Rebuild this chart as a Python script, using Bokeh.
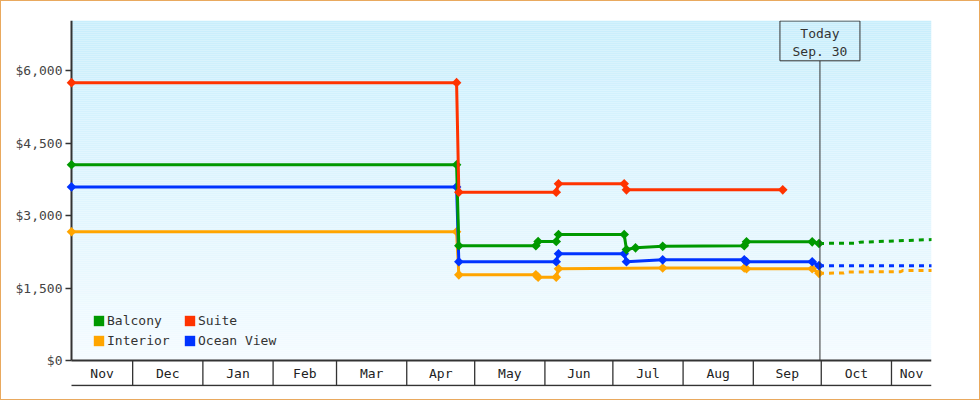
import numpy as np
import pandas as pd
from bokeh.plotting import figure
from bokeh.models import Range1d, FixedTicker, NumeralTickFormatter, Legend, LegendItem
from bokeh.core.properties import value
from bokeh.embed import file_html
from bokeh.resources import INLINE

FONT = "DejaVu Sans Mono"

# ---------------- data ----------------
month_labels = ["Nov", "Dec", "Jan", "Feb", "Mar", "Apr", "May", "Jun",
                "Jul", "Aug", "Sep", "Oct", "Nov"]
month_starts = ["2012-11-01", "2012-12-01", "2013-01-01", "2013-02-01",
                "2013-03-01", "2013-04-01", "2013-05-01", "2013-06-01",
                "2013-07-01", "2013-08-01", "2013-09-01", "2013-10-01",
                "2013-11-01"]
month_ends = month_starts[1:] + ["2013-12-01"]
y_ticks = [0, 1500, 3000, 4500, 6000]
x_start = "2012-11-04"
x_end = "2013-11-18 16:00"
today_date = "2013-09-30 10:00"
today_text = ["Today", "Sep. 30"]

series_names = ["Balcony", "Suite", "Interior", "Ocean View"]
series_colors = {"Balcony": "#009900", "Suite": "#ff3300",
                 "Interior": "#ffa500", "Ocean View": "#0033ff"}

balcony_dates = ["2012-11-04", "2013-04-23", "2013-04-24", "2013-05-28",
                 "2013-05-29", "2013-06-06", "2013-06-07", "2013-07-06",
                 "2013-07-07", "2013-07-11", "2013-07-23", "2013-08-28",
                 "2013-08-29", "2013-09-27", "2013-09-30"]
balcony_prices = [4050, 4050, 2375, 2375, 2462, 2462, 2607, 2607,
                  2295, 2331, 2362, 2375, 2455, 2455, 2422]
balcony_fc_dates = ["2013-09-30", "2013-10-17", "2013-10-18", "2013-11-19"]
balcony_fc_prices = [2422, 2428, 2446, 2503]

suite_dates = ["2012-11-04", "2013-04-23", "2013-04-24", "2013-06-06",
               "2013-06-07", "2013-07-06", "2013-07-07", "2013-09-14"]
suite_prices = [5748, 5748, 3483, 3483, 3658, 3658, 3531, 3531]

interior_dates = ["2012-11-04", "2013-04-23", "2013-04-24", "2013-05-28",
                  "2013-05-29", "2013-06-06", "2013-06-07", "2013-07-23",
                  "2013-08-28", "2013-08-29", "2013-09-27", "2013-09-30"]
interior_prices = [2665, 2665, 1772, 1772, 1724, 1724, 1897, 1915,
                   1915, 1897, 1897, 1803]
interior_fc_dates = ["2013-09-30", "2013-10-11", "2013-10-12", "2013-11-05",
                     "2013-11-06", "2013-11-19"]
interior_fc_prices = [1803, 1812, 1832, 1836, 1860, 1864]

ocean_dates = ["2012-11-04", "2013-04-23", "2013-04-24", "2013-06-06",
               "2013-06-07", "2013-07-06", "2013-07-07", "2013-07-23",
               "2013-08-28", "2013-08-29", "2013-09-27", "2013-09-30"]
ocean_prices = [3592, 3592, 2044, 2044, 2210, 2210, 2044, 2083,
                2083, 2044, 2044, 1962]
ocean_fc_dates = ["2013-09-30", "2013-11-19"]
ocean_fc_prices = [1962, 1960]


def ms(d):
    return pd.Timestamp(d).value / 1e6


def ms_list(ds):
    return [ms(d) for d in ds]


# ---------------- layout ----------------
PLOT_W, FRAME_H = 860, 366
LEFT_PAD = 6              # frame extends a little left of the axis line
FRAME_W = PLOT_W + LEFT_PAD
PLOT_H = 340              # pixels from top of frame to $0
DOLLAR_PER_PX = 6000 / 290
y_top = PLOT_H * DOLLAR_PER_PX
y_bot = y_top - FRAME_H * DOLLAR_PER_PX
x0, x1 = ms(x_start), ms(x_end)
MS_PER_PX = (x1 - x0) / PLOT_W

p = figure(width=978, height=398, frame_width=FRAME_W, frame_height=FRAME_H,
           min_border_left=70 - LEFT_PAD, min_border_right=48, min_border_top=19,
           min_border_bottom=13, output_backend="svg", toolbar_location=None,
           x_axis_type="datetime",
           x_range=Range1d(x0 - LEFT_PAD * MS_PER_PX, x1),
           y_range=Range1d(y_bot, y_top))
p.outline_line_color = None
p.background_fill_color = "white"
p.border_fill_color = "white"
p.xgrid.visible = False
p.ygrid.visible = False
p.xaxis.visible = False
p.styles = {"border": "1px solid #e9a95e"}

# background gradient in the plot area
n_bands = 170
edges = np.linspace(0, y_top, n_bands + 1)
top_rgb = np.array([200, 238, 252])
bot_rgb = np.array([244, 251, 255])
cols = []
for i in range(n_bands):
    t = (i + 0.5) / n_bands
    c = bot_rgb + (top_rgb - bot_rgb) * t
    cols.append("#%02x%02x%02x" % tuple(int(round(v)) for v in c))
p.quad(left=x0, right=x1, bottom=edges[:-1], top=edges[1:],
       fill_color=cols, line_color=None)

# y axis (ticks and labels from the axis; its line drawn at the plot's left edge)
ya = p.yaxis[0]
ya.ticker = FixedTicker(ticks=y_ticks, minor_ticks=[])
ya.formatter = NumeralTickFormatter(format="$0,0")
ya.axis_line_color = None
ya.major_tick_line_color = "#333333"
ya.major_tick_line_width = 1.5
ya.major_tick_out = 0
ya.major_tick_in = LEFT_PAD
ya.minor_tick_line_color = None
ya.major_label_standoff = 3
ya.major_label_text_font = FONT
ya.major_label_text_font_size = "13px"
ya.major_label_text_color = "#444444"
p.segment(x0=[x0], x1=[x0], y0=[0], y1=[y_top], line_color="#333333",
          line_width=2)

# month band below the plot
band_y = -25 * DOLLAR_PER_PX
p.segment(x0=[x0], x1=[x1], y0=[0], y1=[0], line_color="#333333", line_width=2)
p.segment(x0=[x0], x1=[x1], y0=[band_y], y1=[band_y], line_color="#333333",
          line_width=1.3)
bounds = [ms(d) for d in month_starts[1:]]
p.segment(x0=bounds, x1=bounds, y0=[0] * len(bounds), y1=[band_y] * len(bounds),
          line_color="#333333", line_width=1.3)
centers = []
for s, e in zip(month_starts, month_ends):
    a, b = max(ms(s), x0), min(ms(e), x1)
    centers.append((a + b) / 2)
p.text(x=centers, y=[-12.7 * DOLLAR_PER_PX] * len(centers), text=month_labels,
       text_font=value(FONT), text_font_size=value("13px"), text_color="#222222",
       text_align="center", text_baseline="middle")

# series
solid = {
    "Interior": (interior_dates, interior_prices),
    "Ocean View": (ocean_dates, ocean_prices),
    "Balcony": (balcony_dates, balcony_prices),
    "Suite": (suite_dates, suite_prices),
}
fc = {
    "Interior": (interior_fc_dates, interior_fc_prices),
    "Ocean View": (ocean_fc_dates, ocean_fc_prices),
    "Balcony": (balcony_fc_dates, balcony_fc_prices),
}
for name in ["Interior", "Ocean View", "Balcony", "Suite"]:
    c = series_colors[name]
    if name in fc:
        d, v = fc[name]
        p.line(ms_list(d), v, line_color=c, line_width=3, line_dash="5 5")
for name in ["Interior", "Ocean View", "Balcony", "Suite"]:
    c = series_colors[name]
    d, v = solid[name]
    p.line(ms_list(d), v, line_color=c, line_width=3)
    p.scatter(ms_list(d), v, marker="square", angle=np.pi / 4, size=6.8,
              fill_color=c, line_color=None)

# today marker
t = ms(today_date)
box_bottom = (PLOT_H - 40.3) * DOLLAR_PER_PX
p.segment(x0=[t], x1=[t], y0=[0], y1=[box_bottom], line_color="#333333",
          line_width=1)
p.quad(left=[t - 40 * MS_PER_PX], right=[t + 40 * MS_PER_PX],
       bottom=[box_bottom], top=[y_top - 0.5 * DOLLAR_PER_PX],
       fill_color=None, line_color="#333333", line_width=1)
p.text(x=[t, t], y=[(PLOT_H - 12.7) * DOLLAR_PER_PX, (PLOT_H - 30.7) * DOLLAR_PER_PX],
       text=today_text, text_font=value(FONT), text_font_size=value("13px"),
       text_color="#333333", text_align="center", text_baseline="middle")

# legend (two columns); swatch renderers hold no visible data
dummies = {}
for name in series_names:
    dummies[name] = p.quad(left=[np.nan], right=[np.nan], top=[np.nan],
                           bottom=[np.nan], fill_color=series_colors[name],
                           line_color=None)


def make_legend(names, loc):
    lg = Legend(items=[LegendItem(label=n, renderers=[dummies[n]]) for n in names],
                location=loc, orientation="vertical", glyph_width=13,
                glyph_height=13, label_standoff=2, padding=0, spacing=5,
                margin=0, label_height=13, label_text_font=FONT,
                label_text_font_size="13px", label_text_color="#333333",
                background_fill_alpha=0, border_line_alpha=0)
    p.add_layout(lg, "center")


make_legend(["Balcony", "Interior"], (21 + LEFT_PAD, 38))
make_legend(["Suite", "Ocean View"], (112 + LEFT_PAD, 38))

open("out.html", "w").write(file_html(p, INLINE))
